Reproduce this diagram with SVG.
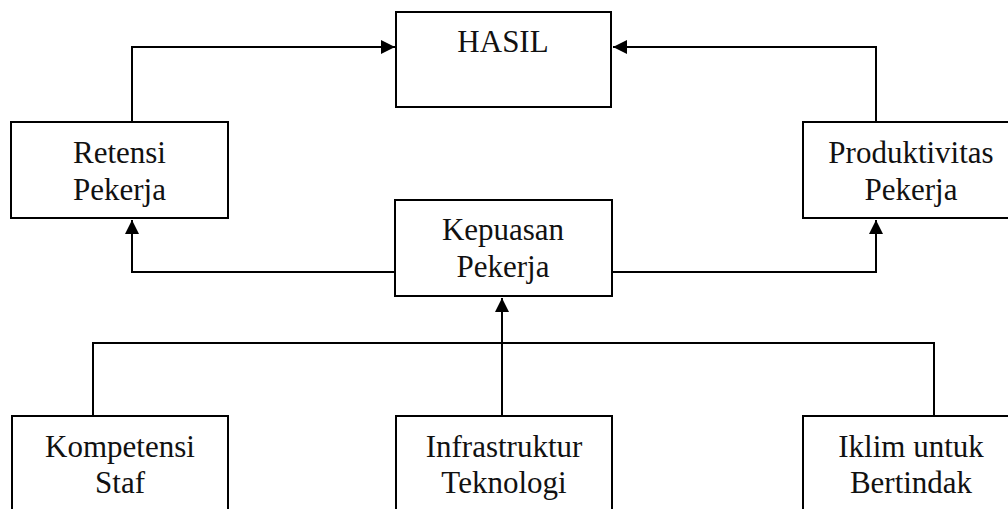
<svg xmlns="http://www.w3.org/2000/svg" width="1008" height="509" viewBox="0 0 1008 509">
<style>
.box{fill:#fff;stroke:#000;stroke-width:2}
.t{font-family:"Liberation Serif","Times New Roman",serif;font-size:31px;fill:#111;text-anchor:middle}
.c{fill:none;stroke:#000;stroke-width:2}
</style>
<defs>
<marker id="ah" viewBox="0 0 10 10" refX="10" refY="5" markerWidth="14" markerHeight="14" markerUnits="userSpaceOnUse" orient="auto">
<path d="M0,0 L10,5 L0,10 Z" fill="#000"/>
</marker>
</defs>
<rect width="1008" height="509" fill="#fff"/>
<g id="connectors">
<polyline class="c" points="132,122 132,47 395,47" marker-end="url(#ah)"/>
<polyline class="c" points="876,122 876,47 613,47" marker-end="url(#ah)"/>
<polyline class="c" points="395,272 132,272 132,220" marker-end="url(#ah)"/>
<polyline class="c" points="612,272 876,272 876,220" marker-end="url(#ah)"/>
<polyline class="c" points="93,416 93,343 934,343 934,416"/>
<line class="c" x1="502" y1="416" x2="502" y2="298" marker-end="url(#ah)"/>
</g>
<g id="hasil"><rect class="box" x="396" y="12" width="215" height="95"/><text class="t" x="503" y="52">HASIL</text></g>
<g id="retensi"><rect class="box" x="11" y="122" width="217" height="96"/><text class="t" x="119.5" y="163">Retensi</text><text class="t" x="119.5" y="200">Pekerja</text></g>
<g id="produktivitas"><rect class="box" x="803" y="122" width="217" height="96"/><text class="t" x="911" y="163">Produktivitas</text><text class="t" x="911" y="200">Pekerja</text></g>
<g id="kepuasan"><rect class="box" x="395" y="200" width="217" height="96"/><text class="t" x="503" y="240">Kepuasan</text><text class="t" x="503" y="277">Pekerja</text></g>
<g id="kompetensi"><rect class="box" x="12" y="416" width="216" height="110"/><text class="t" x="120" y="457">Kompetensi</text><text class="t" x="120" y="493">Staf</text></g>
<g id="infrastruktur"><rect class="box" x="396" y="416" width="216" height="110"/><text class="t" x="504" y="457">Infrastruktur</text><text class="t" x="504" y="493">Teknologi</text></g>
<g id="iklim"><rect class="box" x="803" y="416" width="217" height="110"/><text class="t" x="911" y="457">Iklim untuk</text><text class="t" x="911" y="493">Bertindak</text></g>
</svg>
